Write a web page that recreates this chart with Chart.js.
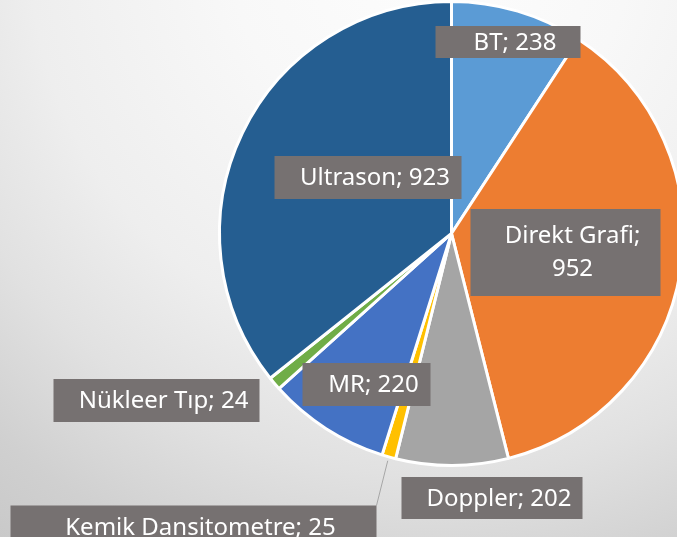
<!DOCTYPE html>
<html>
<head>
<meta charset="utf-8">
<script src="https://cdn.jsdelivr.net/npm/chart.js@4/dist/chart.umd.min.js"></script>
<style>
  html, body { margin: 0; padding: 0; overflow: hidden; width: 677px; height: 537px; }
  body {
    background: radial-gradient(circle at 430px -50px, #fdfdfd 0px, #f8f8f8 200px, #eeeeee 400px, #e1e1e1 525px, #d0d0d0 650px, #c6c6c6 760px);
  }
  canvas { display: block; }
</style>
</head>
<body>
<canvas id="pie" width="700" height="537"></canvas>
<script>
// data (clockwise from 12 o'clock)
const categories = ['BT', 'Direkt Grafi', 'Doppler', 'Kemik Dansitometre', 'MR', 'Nükleer Tıp', 'Ultrason'];
const counts = [238, 952, 202, 25, 220, 24, 923];
const sliceColors = ['#5B9BD5', '#ED7D31', '#A5A5A5', '#FFC000', '#4472C4', '#70AD47', '#255E91'];

// label boxes, offset from the pie centre: [dx, dy, width, height]
const labelBoxes = [
  [56.5, -191.5, 145, 32],
  [114, 19, 190, 87],
  [40.5, 264.5, 181, 42],
  [-258, 293.5, 366, 43],
  [-85, 151, 128, 43],
  [-295, 167, 206, 43],
  [-83.5, -56, 187, 43]
];
const wrapLabel = [false, true, false, false, false, false, false];
const leaderLine = [false, false, false, true, false, false, false];

const labelPlugin = {
  id: 'boxLabels',
  afterDatasetsDraw(chart) {
    const ctx = chart.ctx;
    const arcs = chart.getDatasetMeta(0).data;
    ctx.save();
    ctx.font = '24px "Noto Sans"';
    ctx.textAlign = 'center';
    ctx.textBaseline = 'middle';
    arcs.forEach((arc, i) => {
      const cx = arc.x, cy = arc.y;
      const [dx, dy, w, h] = labelBoxes[i];
      const bx = cx + dx, by = cy + dy;
      if (leaderLine[i]) {
        const mid = (arc.startAngle + arc.endAngle) / 2;
        const r = arc.outerRadius + 4;
        ctx.strokeStyle = '#a6a6a6';
        ctx.lineWidth = 1;
        ctx.beginPath();
        ctx.moveTo(cx + Math.cos(mid) * r, cy + Math.sin(mid) * r);
        ctx.lineTo(bx + w / 2, by - h / 2);
        ctx.stroke();
      }
      ctx.fillStyle = '#767171';
      ctx.fillRect(bx - w / 2, by - h / 2, w, h);
      ctx.fillStyle = '#ffffff';
      if (wrapLabel[i]) {
        ctx.fillText(categories[i] + ';', bx + 7, by - 16);
        ctx.fillText(String(counts[i]), bx + 7, by + 17);
      } else {
        ctx.fillText(categories[i] + '; ' + counts[i], bx + 7, by + 1);
      }
    });
    ctx.restore();
  }
};

new Chart(document.getElementById('pie'), {
  type: 'pie',
  data: {
    labels: categories,
    datasets: [{
      data: counts,
      backgroundColor: sliceColors,
      borderColor: '#ffffff',
      borderWidth: 3
    }]
  },
  options: {
    responsive: false,
    animation: false,
    layout: { padding: { left: 218, right: 15, top: 0, bottom: 70 } },
    plugins: {
      legend: { display: false },
      tooltip: { enabled: false }
    }
  },
  plugins: [labelPlugin]
});
</script>
</body>
</html>
